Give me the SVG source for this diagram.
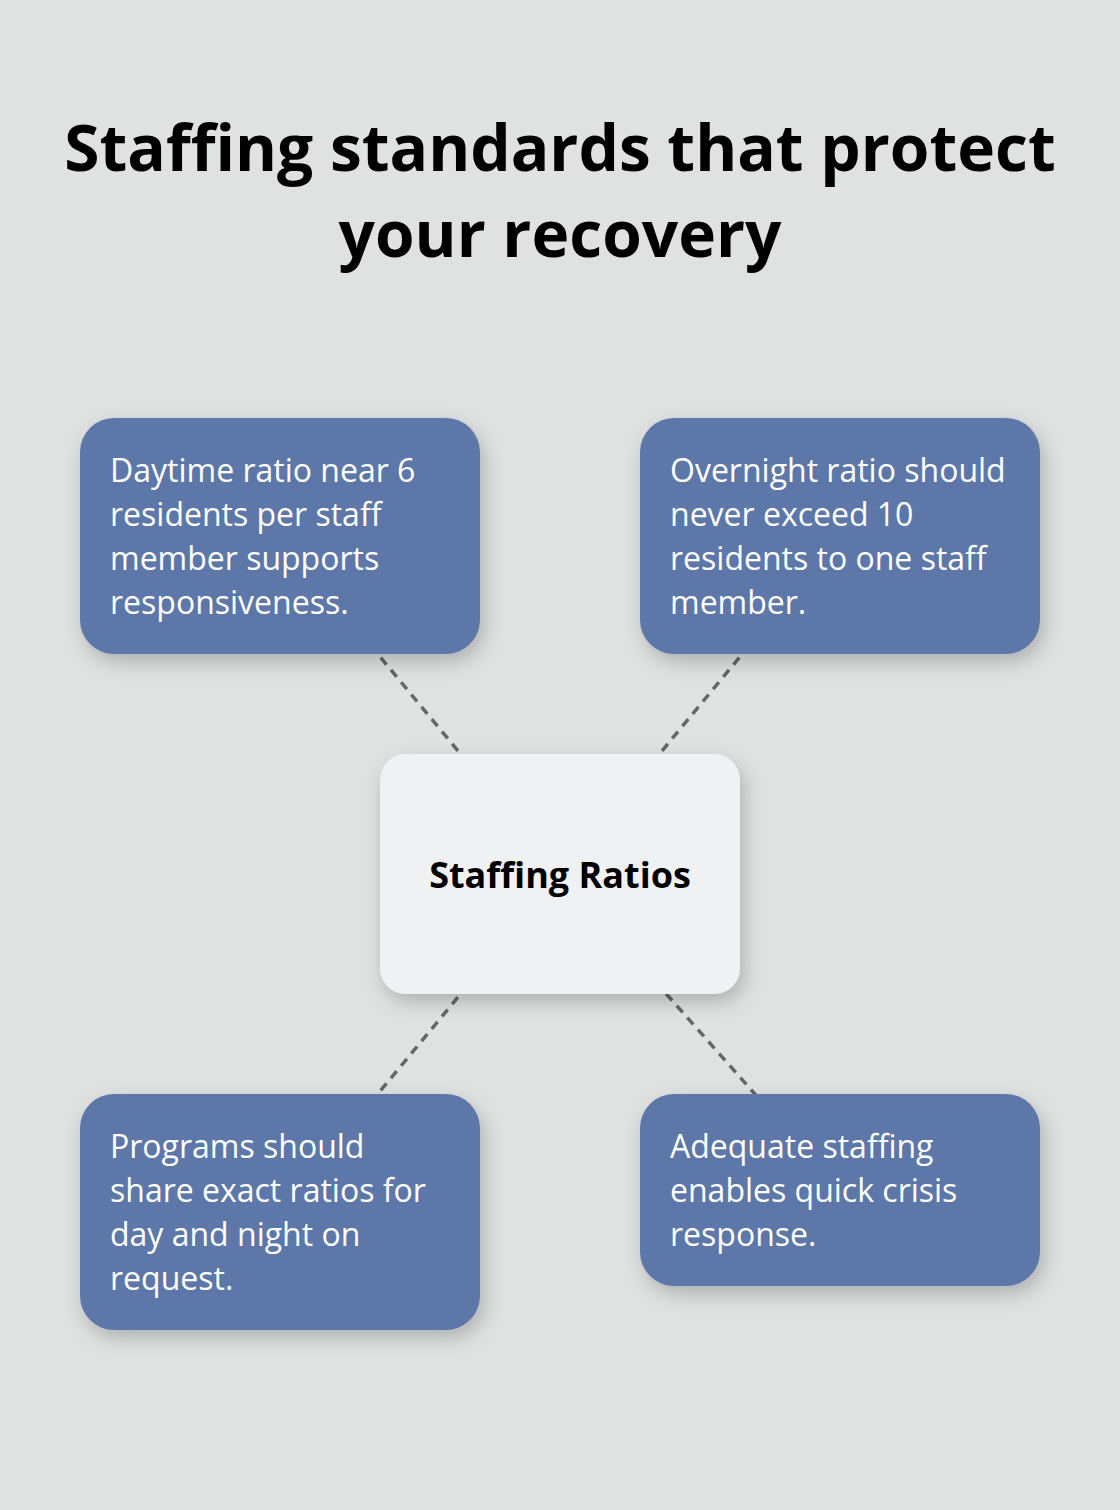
<svg xmlns="http://www.w3.org/2000/svg" width="1120" height="1510" viewBox="0 0 1120 1510">
<defs>
<filter id="sh" x="-20%" y="-20%" width="140%" height="150%">
<feDropShadow dx="4" dy="8" stdDeviation="10" flood-color="#000" flood-opacity="0.22"/>
</filter>
<style>
.title{font-family:"Open Sans","Noto Sans",sans-serif;font-weight:700;font-size:64px;fill:#000;text-anchor:middle}
.box{fill:#5D77A9;filter:url(#sh)}
.center{fill:#F0F1F3;filter:url(#sh)}
.t{font-family:"Open Sans","Noto Sans",sans-serif;font-size:32px;fill:#fff}
.ct{font-family:"Open Sans","Noto Sans",sans-serif;font-weight:700;font-size:36px;fill:#000;text-anchor:middle}
.conn{stroke:#666;stroke-width:3.5;stroke-dasharray:9 7;fill:none}
</style>
</defs>
<rect width="1120" height="1510" fill="#E0E2E1"/>
<text class="title" x="560" y="171">Staffing standards that protect</text>
<text class="title" x="560" y="257">your recovery</text>
<g id="connectors">
<line class="conn" x1="560" y1="874" x2="280" y2="536"/>
<line class="conn" x1="560" y1="874" x2="840" y2="536"/>
<line class="conn" x1="560" y1="874" x2="280" y2="1212"/>
<line class="conn" x1="560" y1="874" x2="840" y2="1190"/>
</g>
<g id="node-center">
<rect class="center" x="380" y="754" width="360" height="240" rx="26"/>
<text class="ct" x="560" y="888">Staffing Ratios</text>
</g>
<g id="node-tl">
<rect class="box" x="80" y="418" width="400" height="236" rx="34"/>
<text class="t" x="110" y="482">Daytime ratio near 6</text>
<text class="t" x="110" y="526">residents per staff</text>
<text class="t" x="110" y="570">member supports</text>
<text class="t" x="110" y="614">responsiveness.</text>
</g>
<g id="node-tr">
<rect class="box" x="640" y="418" width="400" height="236" rx="34"/>
<text class="t" x="670" y="482">Overnight ratio should</text>
<text class="t" x="670" y="526">never exceed 10</text>
<text class="t" x="670" y="570">residents to one staff</text>
<text class="t" x="670" y="614">member.</text>
</g>
<g id="node-bl">
<rect class="box" x="80" y="1094" width="400" height="236" rx="34"/>
<text class="t" x="110" y="1158">Programs should</text>
<text class="t" x="110" y="1202">share exact ratios for</text>
<text class="t" x="110" y="1246">day and night on</text>
<text class="t" x="110" y="1290">request.</text>
</g>
<g id="node-br">
<rect class="box" x="640" y="1094" width="400" height="192" rx="34"/>
<text class="t" x="670" y="1158">Adequate staffing</text>
<text class="t" x="670" y="1202">enables quick crisis</text>
<text class="t" x="670" y="1246">response.</text>
</g>
</svg>
